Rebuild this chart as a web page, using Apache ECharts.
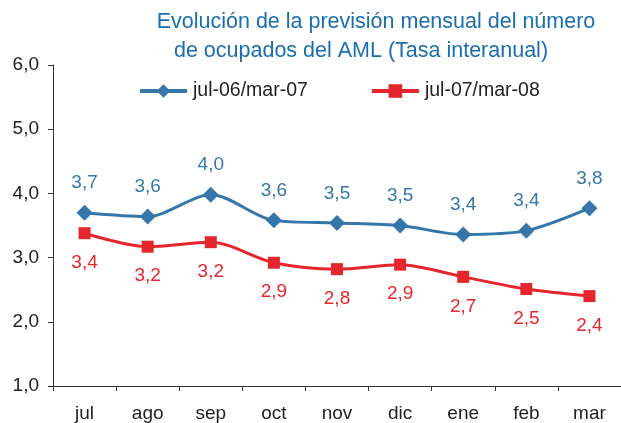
<!DOCTYPE html>
<html>
<head>
<meta charset="utf-8">
<script src="https://cdn.jsdelivr.net/npm/echarts@6/dist/echarts.min.js"></script>
<style>
  html, body { margin: 0; padding: 0; background: #fff; }
  #chart { width: 621px; height: 423px; }
</style>
</head>
<body>
<div id="chart"></div>
<script>
// datos
const meses = ["jul", "ago", "sep", "oct", "nov", "dic", "ene", "feb", "mar"];
const serie0607 = [3.70, 3.64, 3.98, 3.58, 3.54, 3.50, 3.36, 3.42, 3.77];
const serie0708 = [3.38, 3.17, 3.24, 2.92, 2.82, 2.89, 2.70, 2.51, 2.40];
const nombres = ["jul-06/mar-07", "jul-07/mar-08"];
const titulo = ["Evolución de la previsión mensual del número", "de ocupados del AML (Tasa interanual)"];

const AZUL = "#3577aa";
const ROJO = "#e5262c";
const FUENTE = "Liberation Sans";
const fmt = v => v.toFixed(1).replace(".", ",");

const estiloTitulo = {
  fontFamily: FUENTE,
  fontSize: 21.5,
  fontWeight: "normal",
  color: "#1a6eb0",
  lineHeight: 24
};

const chart = echarts.init(document.getElementById("chart"));
chart.setOption({
  animation: false,
  title: [
    { text: titulo[0], left: 376, top: 10, textAlign: "center", padding: 0, textStyle: estiloTitulo },
    { text: titulo[1], left: 361, top: 39, textAlign: "center", padding: 0, textStyle: estiloTitulo }
  ],
  legend: {
    left: 138,
    top: 81,
    itemWidth: 47,
    itemHeight: 17,
    itemGap: 62,
    padding: 0,
    lineStyle: { width: 4 },
    textStyle: { fontFamily: FUENTE, fontSize: 19.5, color: "#222", padding: [0, 0, 0, 1] },
    data: nombres
  },
  grid: { left: 53, top: 65, bottom: 36, width: 572 },
  xAxis: {
    type: "category",
    data: meses,
    boundaryGap: true,
    axisLine: { lineStyle: { color: "#333", width: 1 } },
    axisTick: { show: true, length: 5, inside: false, lineStyle: { color: "#333" } },
    axisLabel: { fontFamily: FUENTE, fontSize: 19, color: "#222", margin: 18 }
  },
  yAxis: {
    type: "value",
    min: 1,
    max: 6,
    interval: 1,
    axisLine: { show: true, lineStyle: { color: "#333", width: 1 } },
    axisTick: { show: true, length: 5, lineStyle: { color: "#333" } },
    splitLine: { show: false },
    axisLabel: { fontFamily: FUENTE, fontSize: 19, color: "#222", margin: 14, formatter: fmt }
  },
  series: [
    {
      name: nombres[0],
      type: "line",
      data: serie0607,
      smooth: 0.3,
      symbol: "diamond",
      symbolSize: 16,
      lineStyle: { color: AZUL, width: 3 },
      itemStyle: { color: AZUL },
      label: {
        show: true,
        position: "top",
        distance: 12,
        formatter: p => fmt(p.value),
        fontFamily: FUENTE,
        fontSize: 19,
        color: AZUL
      }
    },
    {
      name: nombres[1],
      type: "line",
      data: serie0708,
      smooth: 0.3,
      symbol: "rect",
      symbolSize: 12,
      lineStyle: { color: ROJO, width: 3 },
      itemStyle: { color: ROJO },
      label: {
        show: true,
        position: "bottom",
        distance: 14,
        formatter: p => fmt(p.value),
        fontFamily: FUENTE,
        fontSize: 19,
        color: ROJO
      }
    }
  ]
});
</script>
</body>
</html>
